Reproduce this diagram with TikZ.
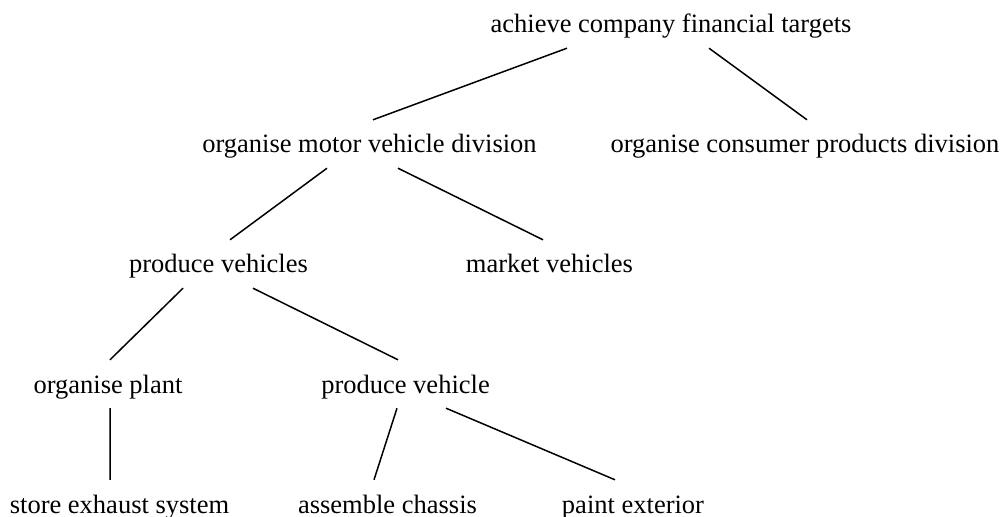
\documentclass[tikz,border=0pt]{standalone}
\usepackage{fontspec}
\setmainfont{Liberation Serif}
\begin{document}
\begin{tikzpicture}[x=1bp,y=-1bp,
  goal/.style={anchor=base,inner xsep=0pt,inner ysep=15bp,text height=18bp,text depth=0bp,
    font=\fontsize{26.6pt}{32pt}\selectfont},
  link/.style={draw=black,line width=1.5bp}]
\useasboundingbox (0,0) rectangle (1005,517);
\node[goal] (root) at (671,33) {achieve company financial targets};
\node[goal] (omvd) at (369.5,153) {organise motor vehicle division};
\node[goal] (ocpd) at (805,153) {organise consumer products division};
\node[goal] (pvs) at (218.5,273) {produce vehicles};
\node[goal] (mkt) at (549.5,273) {market vehicles};
\node[goal] (op) at (108,393) {organise plant};
\node[goal] (pv) at (405.5,393) {produce vehicle};
\node[goal] (ses) at (119.5,513) {store exhaust system};
\node[goal] (ac) at (387.5,513) {assemble chassis};
\node[goal] (pe) at (633,513) {paint exterior};
\draw[link] ([xshift=-104bp]root.south) -- ([xshift=3.5bp]omvd.north);
\draw[link] ([xshift=38bp]root.south) -- ([xshift=2bp]ocpd.north);
\draw[link] ([xshift=-42.5bp]omvd.south) -- ([xshift=11.5bp]pvs.north);
\draw[link] ([xshift=28.5bp]omvd.south) -- ([xshift=-6.5bp]mkt.north);
\draw[link] ([xshift=-35.5bp]pvs.south) -- ([xshift=2bp]op.north);
\draw[link] ([xshift=34.5bp]pvs.south) -- ([xshift=-7.5bp]pv.north);
\draw[link] ([xshift=2bp]op.south) -- ([xshift=-9.5bp]ses.north);
\draw[link] ([xshift=-8.5bp]pv.south) -- ([xshift=-13.5bp]ac.north);
\draw[link] ([xshift=40.5bp]pv.south) -- ([xshift=-18bp]pe.north);
\end{tikzpicture}
\end{document}
